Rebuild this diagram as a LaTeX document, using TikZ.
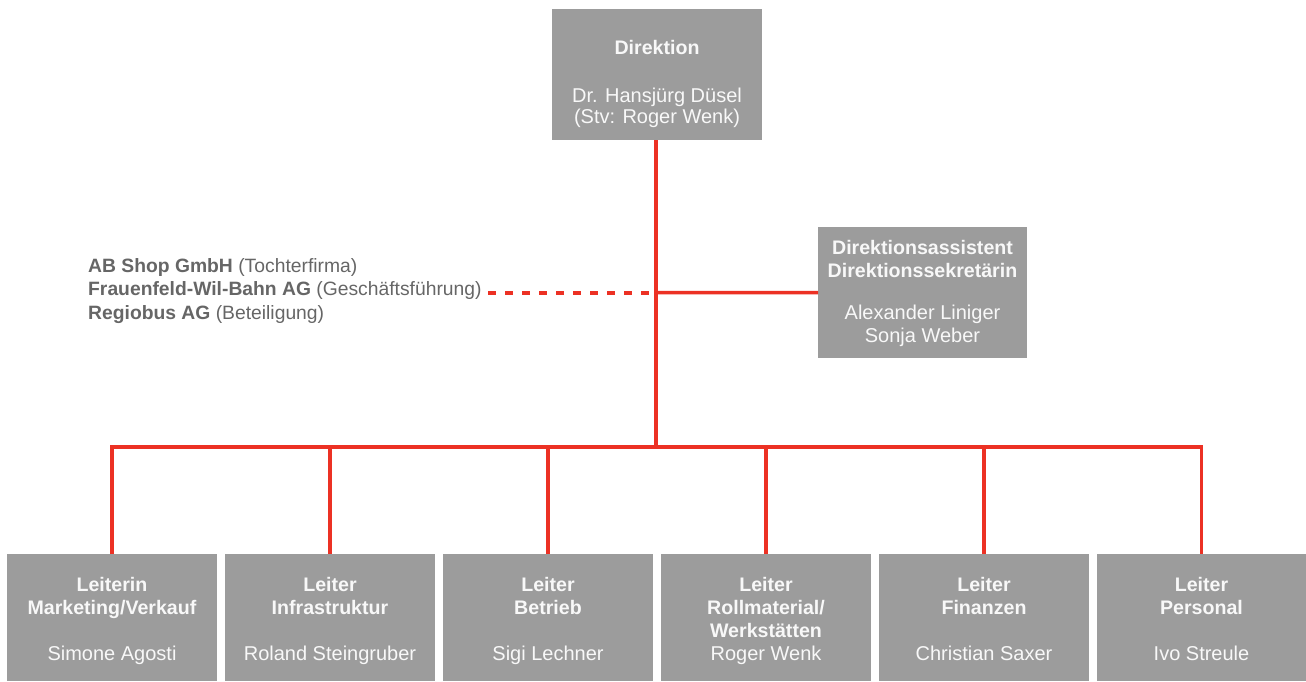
\documentclass[tikz,border=0pt]{standalone}
\usepackage{fontspec}
\setmainfont{Liberation Sans}
\definecolor{boxgray}{HTML}{9C9C9C}
\definecolor{linered}{HTML}{EC3124}
\definecolor{leftgray}{HTML}{666666}
\definecolor{boxtext}{HTML}{F8F8F8}
\begin{document}
\begin{tikzpicture}[x=1pt,y=-1pt,
  orgbox/.style={fill=boxgray,draw=none,inner sep=0pt,anchor=north west,minimum width=210pt,minimum height=131pt},
  lowbox/.style={orgbox,minimum height=127pt},
  boxtxt/.style={text=boxtext,align=center,anchor=north,inner sep=0pt,font=\fontsize{19.6}{23}\selectfont},
  nametxt/.style={boxtxt,font=\fontsize{20}{23}\selectfont},
  conn/.style={draw=linered,line width=3.5pt,line join=miter},
  dashconn/.style={draw=linered,line width=4pt,dash pattern=on 8pt off 9pt}]
\useasboundingbox (0,0) rectangle (1306,681);
% boxes
\node[orgbox] (dir) at (552,9) {};
\node[orgbox,minimum width=209pt] (asst) at (818,227) {};
\node[lowbox] (b1) at (7,554) {};
\node[lowbox] (b2) at (225,554) {};
\node[lowbox] (b3) at (443,554) {};
\node[lowbox] (b4) at (661,554) {};
\node[lowbox] (b5) at (879,554) {};
\node[lowbox,minimum width=209pt] (b6) at (1097,554) {};
% texts
\node[boxtxt] (dirT) at (657,40.3) {\textbf{Direktion}};
\node[nametxt,font=\fontsize{20}{21}\selectfont] (dirN) at (657,88) {Dr. Hansjürg Düsel\\(Stv: Roger Wenk)};
\node[boxtxt] (asT) at (922.5,240) {\textbf{Direktionsassistent}\\\textbf{Direktionssekretärin}};
\node[nametxt] (asN) at (922.5,305) {Alexander Liniger\\Sonja Weber};
\node[boxtxt] (t1) at (112,577) {\textbf{Leiterin}\\\textbf{Marketing/Verkauf}};
\node[nametxt] (n1) at (112,646) {Simone Agosti};
\node[boxtxt] (t2) at (330,577) {\textbf{Leiter}\\\textbf{Infrastruktur}};
\node[nametxt] (n2) at (330,646) {Roland Steingruber};
\node[boxtxt] (t3) at (548,577) {\textbf{Leiter}\\\textbf{Betrieb}};
\node[nametxt] (n3) at (548,646) {Sigi Lechner};
\node[boxtxt] (t4) at (766,577) {\textbf{Leiter}\\\textbf{Rollmaterial/}\\\textbf{Werkstätten}};
\node[nametxt] (n4) at (766,646) {Roger Wenk};
\node[boxtxt] (t5) at (984,577) {\textbf{Leiter}\\\textbf{Finanzen}};
\node[nametxt] (n5) at (984,646) {Christian Saxer};
\node[boxtxt] (t6) at (1201.5,577) {\textbf{Leiter}\\\textbf{Personal}};
\node[nametxt] (n6) at (1201.5,646) {Ivo Streule};
% left text
\node[text=leftgray,align=left,anchor=north west,inner sep=0pt,font=\fontsize{19.3}{23.5}\selectfont] (firms) at (88,258)
  {\textbf{AB Shop GmbH} (Tochterfirma)\\\textbf{Frauenfeld-Wil-Bahn AG} (Geschäftsführung)\\\textbf{Regiobus AG} (Beteiligung)};
% connectors
\coordinate (trunk) at (656,140);
\coordinate (bus) at (656,447);
\coordinate (mid) at (656,292.5);
\coordinate (dashL) at (488,292.5);
\coordinate (dashR) at (650,292.5);
\draw[conn] (trunk) -- (bus);
\draw[conn] (mid) -- (asst.west);
\draw[dashconn] (dashL) -- (dashR);
\draw[conn] (b1.north) |- (b6.north |- bus) -- (b6.north);
\foreach \b in {b2,b3,b4,b5}{\draw[conn] (\b.north) -- (\b.north |- bus);}
\end{tikzpicture}
\end{document}
